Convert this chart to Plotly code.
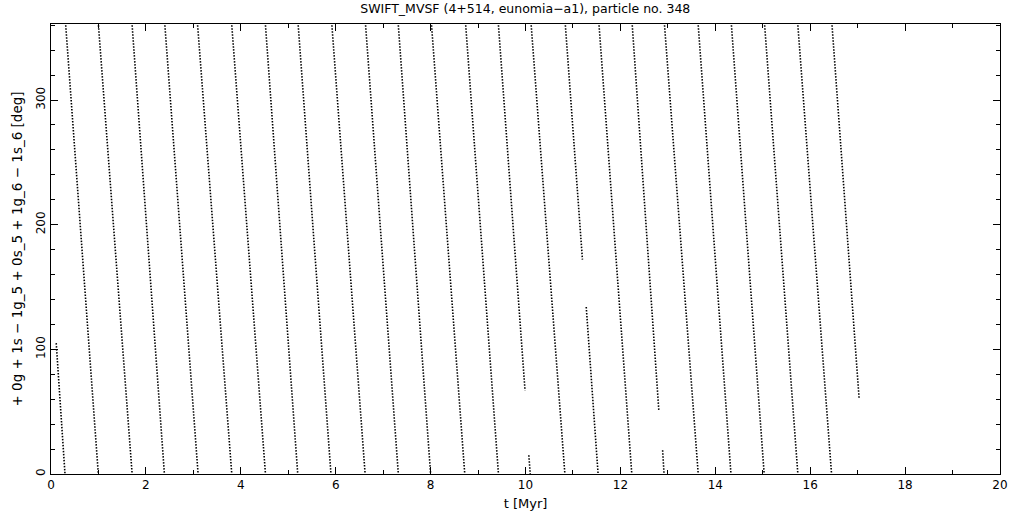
import plotly.graph_objects as go

# Each stripe of the circulating resonant angle: (t_start, angle_start) -> (t_end, angle_end)
seg_t_start = [0.11, 0.31, 1.00, 1.71, 2.40, 3.09, 3.81, 4.52, 5.21, 5.92, 6.63, 7.32, 8.02, 8.74,
               9.43, 10.07, 10.12, 10.84, 11.28, 11.55, 12.25, 12.89, 12.93, 13.64, 14.34, 15.04,
               15.74, 16.46]
seg_a_start = [105, 360, 360, 360, 360, 360, 360, 360, 360, 360, 360, 360, 360, 360,
               360, 15, 360, 360, 134, 360, 360, 19, 360, 360, 360, 360,
               360, 360]
seg_t_end = [0.295, 0.997, 1.71, 2.39, 3.10, 3.81, 4.52, 5.20, 5.90, 6.62, 7.32, 8.00, 8.72, 9.43,
             9.99, 10.10, 10.83, 11.20, 11.53, 12.24, 12.81, 12.92, 13.64, 14.33, 15.03, 15.74,
             16.45, 17.03]
seg_a_end = [0, 0, 0, 0, 0, 0, 0, 0, 0, 0, 0, 0, 0, 0,
             67, 0, 0, 172, 0, 0, 51, 0, 0, 0, 0, 0,
             0, 61]

x_ticks = [0, 2, 4, 6, 8, 10, 12, 14, 16, 18, 20]
y_ticks = [0, 100, 200, 300]

xs, ys = [], []
for t0, a0, t1, a1 in zip(seg_t_start, seg_a_start, seg_t_end, seg_a_end):
    xs += [t0, t1, None]
    ys += [a0, a1, None]

fig = go.Figure()
fig.add_trace(go.Scatter(x=xs, y=ys, mode="lines",
                         line=dict(color="black", width=1.6, dash="1.5px,1.5px"),
                         hoverinfo="skip", showlegend=False))

font = "DejaVu Sans"
axis_common = dict(showline=True, linecolor="black", linewidth=1, mirror="ticks",
                   ticks="inside", tickcolor="black", tickwidth=1, ticklen=7,
                   showgrid=False, zeroline=False,
                   tickfont=dict(family=font, size=12, color="black"))

fig.update_layout(
    width=1021, height=511,
    margin=dict(l=51, r=21, t=24, b=37, autoexpand=False),
    paper_bgcolor="white", plot_bgcolor="white",
    title=dict(text="SWIFT_MVSF (4+514, eunomia\u2212a1), particle no. 348",
               x=0.5145, xanchor="center", y=1 - 9 / 511, yanchor="middle",
               font=dict(family=font, size=12.5, color="black")),
    xaxis=dict(range=[0, 20], tickvals=x_ticks, ticktext=[str(v) for v in x_ticks],
               minor=dict(ticks="inside", ticklen=4, dtick=1, tickcolor="black"),
               title=dict(text="t [Myr]", font=dict(family=font, size=13, color="black"),
                          standoff=11),
               **axis_common),
    yaxis=dict(range=[0, 361], tickvals=y_ticks, ticktext=[str(v) for v in y_ticks],
               tickangle=-90,
               minor=dict(ticks="inside", ticklen=4, dtick=20, tickcolor="black"),
               title=dict(text="+ 0g + 1s \u2212 1g_5 + 0s_5 + 1g_6 \u2212 1s_6 [deg]",
                          font=dict(family=font, size=13.5, color="black"),
                          standoff=8),
               **axis_common),
)

fig.write_html("out.html", config={"displayModeBar": False},
               post_script="document.body.style.margin='0';")
